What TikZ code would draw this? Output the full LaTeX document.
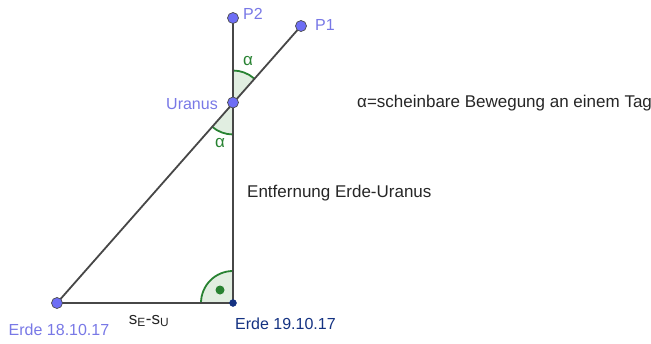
\documentclass[tikz,border=0pt]{standalone}
\usepackage{fontspec}
\setmainfont{Liberation Sans}
\begin{document}
\begin{tikzpicture}[x=1pt,y=-1pt,
  seg/.style={draw=black!72,line width=1.8pt},
  freept/.style={circle,draw=black!70,fill=ptblue,line width=0.7pt,inner sep=0pt,minimum size=11pt},
  deppt/.style={circle,draw=depblue,fill=depblue,inner sep=0pt,minimum size=7pt},
  lbl/.style={text=lblblue,font=\fontsize{16}{19}\selectfont,inner sep=0pt},
  alab/.style={text=anggreen,font=\fontsize{17}{20}\selectfont,inner sep=0pt},
  arcline/.style={draw=anggreen,line width=1.8pt},
  txt/.style={text=black!85,font=\fontsize{17}{20}\selectfont,inner sep=0pt,anchor=west}]
\definecolor{ptblue}{RGB}{110,110,245}
\definecolor{lblblue}{RGB}{120,120,230}
\definecolor{depblue}{RGB}{20,50,130}
\definecolor{anggreen}{RGB}{40,130,50}
\definecolor{angfill}{RGB}{225,238,225}
\useasboundingbox (0,0) rectangle (651,343);
\coordinate (e1) at (57,303);
\coordinate (e2) at (233,303);
\coordinate (u) at (233,102.5);
\coordinate (p2) at (233,18);
\coordinate (p1) at (301,26);
% angle sectors
\fill[angfill] (u) -- ++(90:-32) arc[start angle=-90,end angle=-48.6,radius=32] -- cycle;
\draw[arcline] (u) ++(90:-32) arc[start angle=-90,end angle=-48.6,radius=32];
\fill[angfill] (u) -- ++(-90:-32) arc[start angle=90,end angle=131.4,radius=32] -- cycle;
\draw[arcline] (u) ++(-90:-32) arc[start angle=90,end angle=131.4,radius=32];
\fill[angfill] (e2) -- ++(0,-32) arc[start angle=-90,end angle=-180,radius=32] -- cycle;
\draw[arcline] (e2) ++(0,-32) arc[start angle=-90,end angle=-180,radius=32];
\fill[anggreen] (220,290) circle[radius=4.5];
% segments
\draw[seg] (e1) -- (e2);
\draw[seg] (e2) -- (p2);
\draw[seg] (e1) -- (p1);
% points
\node[freept] (E1) at (e1) {};
\node[deppt] (E2) at (e2) {};
\node[freept] (U) at (u) {};
\node[freept] (P2) at (p2) {};
\node[freept] (P1) at (p1) {};
% labels
\node[lbl,anchor=west] (lP2) at (243,14) {P2};
\node[lbl,anchor=west] (lP1) at (315,25) {P1};
\node[lbl,anchor=east] (lU) at (218,104) {Uranus};
\node[lbl] (lE1) at (59,330) {Erde 18.10.17};
\node[lbl,text=depblue,anchor=west] (lE2) at (235,324) {Erde 19.10.17};
\node[alab] (a1) at (248,61) {α};
\node[alab] (a2) at (220,143) {α};
\node[text=black!85,font=\fontsize{17}{20}\selectfont,inner sep=0pt] (s) at (149,321) {s\textsubscript{E}-s\textsubscript{U}};
\node[txt] (t1) at (357,103) {α=scheinbare Bewegung an einem Tag};
\node[txt] (t2) at (247,193) {Entfernung Erde-Uranus};
\end{tikzpicture}
\end{document}
